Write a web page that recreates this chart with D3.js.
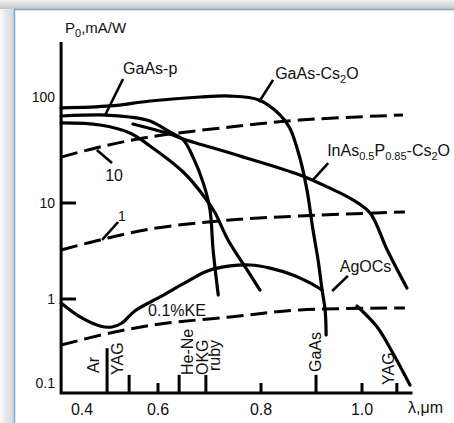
<!DOCTYPE html>
<html>
<head>
<meta charset="utf-8">
<script src="https://cdn.jsdelivr.net/npm/d3@7/dist/d3.min.js"></script>
<style>
body{margin:0;background:#fff;}
svg text{font-family:"Liberation Sans",Arial,sans-serif;fill:#111;}
</style>
</head>
<body>
<svg width="454" height="423"></svg>
<script>
// photocathode sensitivity P0 (mA/W) vs wavelength (um)
var gaasCsLam = [0.345,0.474,0.579,0.682,0.740,0.796,0.838,0.857,0.877,0.891,0.903,0.913,0.921,0.927,0.929];
var gaasCsP   = [78.8,82.3,91.7,100,102,93.7,67.6,51.0,26.6,13.3,5.23,2.55,1.24,0.74,0.373];

var gaasPLam = [0.345,0.461,0.526,0.579,0.623,0.649,0.668,0.688,0.701,0.707,0.717];
var gaasPP   = [66.2,67.6,64.8,59.4,46.8,39.3,27.1,15.4,8.45,3.24,1.10];

var thirdLam = [0.345,0.447,0.526,0.579,0.649,0.692,0.711,0.736,0.773,0.798];
var thirdP   = [56.9,54.4,45.8,34.5,19.6,11.1,7.86,4.12,2.01,1.24];

var inasLam = [0.534,0.623,0.649,0.759,0.877,0.931,0.982,1.016,1.050,1.089];
var inasP   = [55.6,44.8,40.2,27.8,18.4,14.2,10.7,7.86,3.24,1.30];

var agocsLam = [0.345,0.395,0.447,0.479,0.505,0.539,0.604,0.652,0.696,0.740,0.779,0.818,0.863,0.897,0.921];
var agocsP   = [0.896,0.611,0.477,0.464,0.518,0.720,1.05,1.47,1.96,2.21,2.26,2.10,1.78,1.47,1.24];

var tailLam = [0.990,1.030,1.061,1.095];
var tailP   = [0.826,0.464,0.228,0.0946];

// quantum efficiency lines 10%, 1%, 0.1%
var qe10Lam = [0.345,0.447,0.579,0.740,0.877,1.081];
var qe10P   = [27.1,33.8,42.0,52.1,60.7,67.6];
var qe1Lam  = [0.345,0.447,0.579,0.740,0.877,1.085];
var qe1P    = [3.24,4.12,5.36,6.65,7.33,8.06];
var qe01Lam = [0.345,0.474,0.604,0.740,0.877,1.085];
var qe01P   = [0.283,0.394,0.504,0.611,0.740,0.782];

// laser lines on the axis
var laserLam = [0.466,0.524,0.641,0.693,0.909,1.069];
var laserTop = [0.26,0.125,0.125,0.125,0.125,0.1];
var laserNames = [["Ar"],["YAG"],["He-Ne"],["OKG","ruby"],["GaAs"],["YAG"]];

var xTicks = [0.4,0.6,0.8,1.0];
var xTickLabels = ["0.4","0.6","0.8","1.0"];
var yTicks = [0.1,1,10,100];
var yTickLabels = ["0.1","1","10","100"];
var yTickMarks = [1,10];

var svg = d3.select("svg");

// hand drawn axes: uneven spacing, piecewise scales
var x = d3.scaleLinear().domain([0.4,0.6,0.8,1.0]).range([82,158,261,362]);
var y = d3.scaleLog().domain([0.1,1,10,100]).range([383,299,203,97]);
var xEnds = [0.345,1.1], yEnds = [0.076,330];

// window frame
var defs = svg.append("defs");
var g1 = defs.append("linearGradient").attr("id","gt").attr("x1",0).attr("y1",0).attr("x2",0).attr("y2",1);
g1.append("stop").attr("offset",0).attr("stop-color","#f2f2f2");
g1.append("stop").attr("offset",1).attr("stop-color","#c4c4c4");
var g2 = defs.append("linearGradient").attr("id","gl").attr("x1",0).attr("y1",0).attr("x2",1).attr("y2",0);
g2.append("stop").attr("offset",0).attr("stop-color","#fafafa");
g2.append("stop").attr("offset",1).attr("stop-color","#d2d2d2");
svg.append("rect").attr("x",0).attr("y",0).attr("width",454).attr("height",9).attr("fill","url(#gt)");
svg.append("rect").attr("x",0).attr("y",9).attr("width",14).attr("height",414).attr("fill","url(#gl)");
svg.append("line").attr("x1",14).attr("x2",454).attr("y1",9.5).attr("y2",9.5).attr("stroke","#74a9dc").attr("stroke-width",1.5);
svg.append("line").attr("x1",14.5).attr("x2",14.5).attr("y1",9).attr("y2",423).attr("stroke","#74a9dc").attr("stroke-width",1.5);

function zip(a,b){ return a.map(function(v,i){ return [v,b[i]]; }); }

var line = d3.line().x(function(d){return x(d[0]);}).y(function(d){return y(d[1]);})
  .curve(d3.curveCatmullRom.alpha(0.5));

var solid = [zip(gaasCsLam,gaasCsP), zip(gaasPLam,gaasPP), zip(thirdLam,thirdP),
             zip(inasLam,inasP), zip(agocsLam,agocsP), zip(tailLam,tailP)];
var dashed = [zip(qe10Lam,qe10P), zip(qe1Lam,qe1P), zip(qe01Lam,qe01P)];

svg.selectAll(".dash").data(dashed).enter().append("path").attr("class","dash")
  .attr("d",line).attr("fill","none").attr("stroke","#000").attr("stroke-width",3)
  .attr("stroke-dasharray","17,7");

svg.selectAll(".curve").data(solid).enter().append("path").attr("class","curve")
  .attr("d",line).attr("fill","none").attr("stroke","#000").attr("stroke-width",3.2)
  .attr("stroke-linecap","round").attr("stroke-linejoin","round");

// axes
svg.append("path")
  .attr("d","M"+x(xEnds[0])+","+y(yEnds[1])+"V"+y(yEnds[0])+"H"+x(xEnds[1]))
  .attr("fill","none").attr("stroke","#000").attr("stroke-width",3);

svg.selectAll(".ytm").data(yTickMarks).enter().append("line")
  .attr("x1",x(xEnds[0])).attr("x2",x(xEnds[0])+15)
  .attr("y1",function(d){return y(d);}).attr("y2",function(d){return y(d);})
  .attr("stroke","#000").attr("stroke-width",3);

svg.selectAll(".ytl").data(yTicks).enter().append("text")
  .attr("x",55).attr("y",function(d){return y(d);}).attr("dy","0.36em")
  .attr("text-anchor","end").style("font-size","14px")
  .text(function(d,i){return yTickLabels[i];});

svg.selectAll(".xtm").data(xTicks.slice(1)).enter().append("line")
  .attr("x1",function(d){return x(d);}).attr("x2",function(d){return x(d);})
  .attr("y1",y(yEnds[0])).attr("y2",y(0.1))
  .attr("stroke","#000").attr("stroke-width",3);

svg.selectAll(".xtl").data(xTicks).enter().append("text")
  .attr("x",function(d){return x(d);}).attr("y",415)
  .attr("text-anchor","middle").style("font-size","16px")
  .text(function(d,i){return xTickLabels[i];});

// laser marks
svg.selectAll(".laser").data(laserLam).enter().append("line")
  .attr("x1",function(d){return x(d);}).attr("x2",function(d){return x(d);})
  .attr("y1",y(yEnds[0])).attr("y2",function(d,i){return y(laserTop[i]);})
  .attr("stroke","#000").attr("stroke-width",3);

var laserLabelPos = [[[-14,373]],[[-12,375]],[[8,375]],[[-4,375],[8,371]],[[-1,372]],[[-9,385]]];
laserNames.forEach(function(names,i){
  names.forEach(function(n,j){
    var p = laserLabelPos[i][j];
    svg.append("text")
      .attr("transform","translate("+(x(laserLam[i])+p[0])+","+p[1]+") rotate(-90)")
      .attr("dy","0.36em").style("font-size","16px").text(n);
  });
});

// leader lines, both ends in data units
var leaders = [
  [[0.508,148],[0.461,67.6]],
  [[0.824,145],[0.796,89.7]],
  [[0.439,31.6],[0.479,23.8]],
  [[0.495,6.34],[0.453,4.12]],
  [[0.933,23.8],[0.903,16.5]],
  [[0.972,1.74],[0.941,1.21]]
];
svg.selectAll(".lead").data(leaders).enter().append("line")
  .attr("x1",function(d){return x(d[0][0]);}).attr("y1",function(d){return y(d[0][1]);})
  .attr("x2",function(d){return x(d[1][0]);}).attr("y2",function(d){return y(d[1][1]);})
  .attr("stroke","#000").attr("stroke-width",2.6);

// curve labels: [text parts, lam, P, size]
var labels = [
  [[["GaAs-p",0]],0.508,165,16],
  [[["GaAs-Cs",0],["2",1],["O",0]],0.828,148,16],
  [[["InAs",0],["0.5",1],["P",0],["0.85",1],["-Cs",0],["2",1],["O",0]],0.931,27.8,16],
  [[["10",0]],0.461,16.1,16],
  [[["1",0]],0.495,6.49,14],
  [[["0.1%KE",0]],0.574,0.63,16],
  [[["AgOCs",0]],0.956,1.91,16]
];
labels.forEach(function(l){
  var t = svg.append("text").attr("x",x(l[1])).attr("y",y(l[2])).style("font-size",l[3]+"px");
  var sub = 0;
  l[0].forEach(function(p){
    var dy = (p[1]?4:0) - (sub?4:0);
    t.append("tspan").attr("dy",dy).style("font-size",p[1]?"11px":null).text(p[0]);
    sub = p[1];
  });
});

// axis titles
var ty = svg.append("text").attr("x",65).attr("y",33).style("font-size","15px");
ty.append("tspan").text("P");
ty.append("tspan").attr("dy",4).style("font-size","11px").text("0");
ty.append("tspan").attr("dy",-4).text(",mA/W");
svg.append("text").attr("x",408).attr("y",413).style("font-size","16px").text("λ,μm");
</script>
</body>
</html>
